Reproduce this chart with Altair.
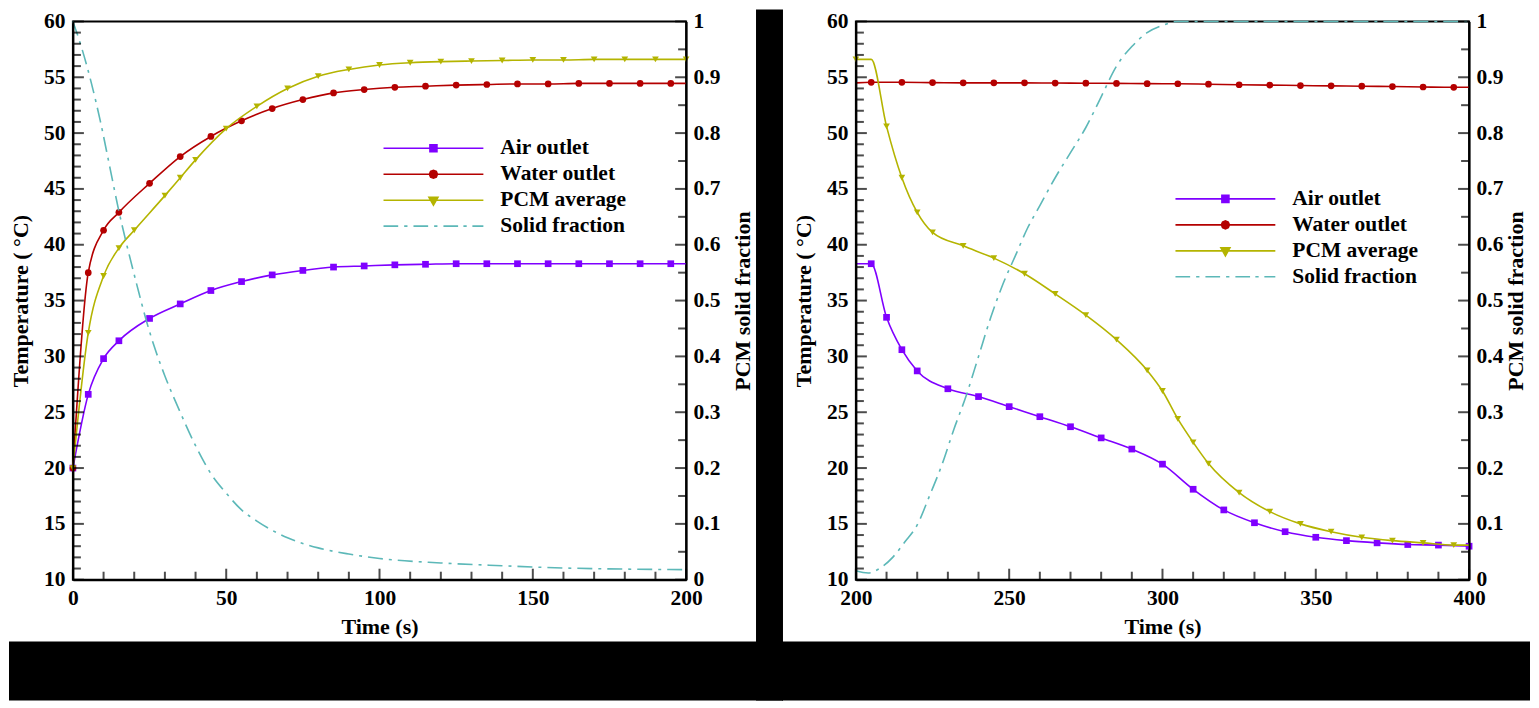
import altair as alt
import pandas as pd

FONT = "Liberation Serif"
NAMES = ["Air outlet", "Water outlet", "PCM average", "Solid fraction"]
COLORS = ["#7f00ff", "#b40000", "#b4b400", "#5cb8b8"]
SHAPES = ["square", "circle", "triangle-down"]

# legend symbols: a 100px line with the marker drawn in its middle
LEG_PATHS = [
    "M-1,0H1M-0.07,-0.07H0.07V0.07H-0.07Z",
    "M-1,0H1M0.08,0L0.057,0.057L0,0.08L-0.057,0.057L-0.08,0L-0.057,-0.057L0,-0.08L0.057,-0.057Z",
    "M-1,0H1M-0.09,-0.06H0.09L0,0.1Z",
    "M-1,0H-0.706M-0.586,0H-0.52M-0.4,0H-0.106M0.014,0H0.08M0.2,0H0.494M0.6,0H0.666M0.78,0H1",
]

# ---- heating, 0-200 s ----
heat_air_t = [0, 5, 10, 15, 25, 35, 45, 55, 65, 75, 85, 95, 105, 115, 125, 135,
              145, 155, 165, 175, 185, 195, 200]
heat_air = [20, 26.6, 29.8, 31.4, 33.4, 34.7, 35.9, 36.7, 37.3, 37.7, 38.0, 38.1,
            38.2, 38.25, 38.3, 38.3, 38.3, 38.3, 38.3, 38.3, 38.3, 38.3, 38.3]
heat_water_t = heat_air_t
heat_water = [20, 37.5, 41.3, 42.9, 45.5, 47.9, 49.7, 51.1, 52.2, 53.0, 53.6, 53.9,
              54.1, 54.2, 54.3, 54.35, 54.4, 54.4, 54.45, 54.45, 54.45, 54.45, 54.45]
heat_pcm_t = [0, 5, 10, 15, 20, 30, 35, 40, 50, 60, 70, 80, 90, 100, 110, 120, 130,
              140, 150, 160, 170, 180, 190, 200]
heat_pcm = [20, 32.1, 37.2, 39.7, 41.3, 44.4, 46.0, 47.6, 50.4, 52.4, 54.0, 55.1,
            55.7, 56.1, 56.3, 56.4, 56.45, 56.5, 56.55, 56.55, 56.6, 56.6, 56.6, 56.6]
heat_frac_t = [0, 3, 6, 9, 12, 15, 18, 21, 24, 27, 30, 35, 40, 45, 50, 55, 60, 70,
               80, 90, 100, 120, 140, 160, 180, 200]
heat_frac = [1.0, 0.95, 0.89, 0.82, 0.74, 0.66, 0.59, 0.525, 0.463, 0.41, 0.365,
             0.30, 0.24, 0.19, 0.155, 0.125, 0.105, 0.075, 0.057, 0.046, 0.038,
             0.030, 0.025, 0.021, 0.019, 0.018]

# ---- cooling, 200-400 s ----
cool_air_t = [200, 205, 210, 215, 220, 230, 240, 250, 260, 270, 280, 290, 300, 310,
              320, 330, 340, 350, 360, 370, 380, 390, 400]
cool_air = [38.3, 38.3, 33.5, 30.6, 28.7, 27.1, 26.4, 25.5, 24.6, 23.7, 22.7, 21.7,
            20.35, 18.1, 16.25, 15.1, 14.3, 13.8, 13.5, 13.3, 13.15, 13.1, 13.0]
cool_water_t = [200, 205, 215, 225, 235, 245, 255, 265, 275, 285, 295, 305, 315,
                325, 335, 345, 355, 365, 375, 385, 395, 400]
cool_water = [54.5, 54.55, 54.55, 54.52, 54.5, 54.5, 54.5, 54.48, 54.47, 54.45,
              54.43, 54.42, 54.38, 54.33, 54.3, 54.26, 54.23, 54.2, 54.17, 54.13,
              54.1, 54.1]
cool_pcm_t = [200, 205, 210, 215, 220, 225, 235, 245, 255, 265, 275, 285, 295, 300,
              305, 310, 315, 325, 335, 345, 355, 365, 375, 385, 395, 400]
cool_pcm = [56.6, 56.6, 50.6, 46.0, 42.9, 41.1, 39.9, 38.8, 37.4, 35.6, 33.7, 31.5,
            28.75, 26.9, 24.4, 22.3, 20.4, 17.8, 16.1, 15.0, 14.3, 13.8, 13.5, 13.3,
            13.1, 13.1]
cool_frac_t = [200, 204, 208, 212, 216, 220, 224, 228, 232, 236, 240, 244, 248, 252,
               256, 260, 265, 270, 275, 280, 285, 290, 295, 300, 305, 310, 400]
cool_frac = [0.016, 0.012, 0.021, 0.04, 0.068, 0.098, 0.15, 0.205, 0.27, 0.33, 0.40,
             0.47, 0.53, 0.58, 0.63, 0.67, 0.72, 0.765, 0.81, 0.865, 0.92, 0.955,
             0.98, 0.993, 1.0, 1.0, 1.0]

# times on a curve that carry no marker in the figure
heat_no_marker = [[200], [200], []]
cool_no_marker = [[200], [200, 400], [205, 400]]

# axis ticks (all of them point into the plot)
TEMP_MAJOR = [10, 15, 20, 25, 30, 35, 40, 45, 50, 55, 60]
TEMP_MINOR = [v for v in range(10, 61) if v not in TEMP_MAJOR]
FRAC_MAJOR = [0, 0.1, 0.2, 0.3, 0.4, 0.5, 0.6, 0.7, 0.8, 0.9, 1]
FRAC_MINOR = [0.05, 0.15, 0.25, 0.35, 0.45, 0.55, 0.65, 0.75, 0.85, 0.95]
HEAT_MAJOR = [0, 50, 100, 150, 200]
COOL_MAJOR = [200, 250, 300, 350, 400]

W, H = 614, 559
TOP = 12            # plot top sits this far below the chart's top edge
TOTAL_W, TOTAL_H = 1523, 692   # what fits inside the page's 8px margins
LEFT_X0, RIGHT_X0 = 64, 848    # plot origins inside the chart
TEMP_DOM, FRAC_DOM = [10, 60], [0, 1]


def axis_style(**kw):
    return alt.Axis(
        labelFont=FONT, labelFontSize=21.5, labelFontWeight="bold", labelColor="black",
        titleFont=FONT, titleFontSize=22, titleFontWeight="bold", titleColor="black",
        domainColor="black", domainWidth=2, ticks=False, labelFlush=False,
        labelOverlap=False, grid=False, zindex=1, **kw)


def x_enc(domain, major):
    return alt.X(
        "t:Q", scale=alt.Scale(domain=domain, nice=False, zero=False),
        axis=axis_style(values=major, title="Time (s)", labelPadding=8, titlePadding=7))


TEMP_AXIS = axis_style(orient="left", values=TEMP_MAJOR, title="Temperature ( °C)",
                       labelPadding=8, titlePadding=11)


def frac_axis(title_pad):
    return axis_style(orient="right", values=FRAC_MAJOR, title="PCM solid fraction",
                      titleAngle=270, titleBaseline="top", format="~g",
                      labelPadding=7, titlePadding=title_pad)


def y_scale(dom):
    return alt.Scale(domain=dom, nice=False, zero=False)


def series(t, v, idx, xe, scale_dom, axis=None, dash=None, no_marker=()):
    df = pd.DataFrame({"t": t, "v": v})
    base = alt.Chart(df).encode(x=xe, y=alt.Y("v:Q", scale=y_scale(scale_dom), axis=axis))
    line_kw = dict(color=COLORS[idx], strokeWidth=1.6, interpolate="monotone")
    if dash:
        line_kw["strokeDash"] = dash
    layers = [base.mark_line(**line_kw)]
    if idx < 3:
        pts = base.encode(y=alt.Y("v:Q", scale=y_scale(scale_dom), axis=None))
        if no_marker:
            pts = pts.transform_filter(
                ~alt.FieldOneOfPredicate(field="t", oneOf=list(no_marker)))
        layers.append(pts.mark_point(shape=SHAPES[idx], filled=True, size=45,
                                     opacity=1, color=COLORS[idx]))
    return layers


def x_ticks(values, xe, length):
    return alt.Chart(pd.DataFrame({"t": values})).mark_tick(
        color="black", thickness=2, size=length).encode(
        x=xe, y=alt.value(H - length / 2))


def y_ticks(values, dom, xpos, length):
    return alt.Chart(pd.DataFrame({"v": values})).mark_tick(
        color="black", thickness=2, size=length).encode(
        y=alt.Y("v:Q", scale=y_scale(dom), axis=None), x=alt.value(xpos))


def block(x0, x1, y0, y1, color="black"):
    return alt.Chart(pd.DataFrame({"k": [0]})).mark_rect(color=color).encode(
        x=alt.value(x0), x2=alt.value(x1), y=alt.value(y0), y2=alt.value(y1))


def legend_layer(lx, ly):
    leg = alt.Legend(
        title=None, orient="none", legendX=lx, legendY=ly, symbolSize=10000,
        symbolStrokeWidth=1.6, labelFont=FONT, labelFontSize=21.5,
        labelFontWeight="bold", labelColor="black", labelOffset=16, rowPadding=0,
        clipHeight=26, padding=0)
    return (
        alt.Chart(pd.DataFrame({"name": NAMES}))
        .transform_filter("false")
        .mark_point(filled=True, opacity=1, size=10000)
        .encode(
            shape=alt.Shape("name:N", scale=alt.Scale(domain=NAMES, range=LEG_PATHS),
                            legend=leg),
            fill=alt.Fill("name:N", scale=alt.Scale(domain=NAMES, range=COLORS),
                          legend=leg),
            stroke=alt.Stroke("name:N", scale=alt.Scale(domain=NAMES, range=COLORS),
                              legend=leg),
        )
    )


def panel(domain, major, air, water, pcm, frac, no_marker, frac_pad, lx, ly, backdrop):
    xe = x_enc(domain, major)
    minor = [v for v in range(domain[0], domain[1] + 1, 10) if v not in major]
    layers = list(backdrop)
    layers += series(*air, 0, xe, TEMP_DOM, axis=TEMP_AXIS, no_marker=no_marker[0])
    layers += series(*water, 1, xe, TEMP_DOM, no_marker=no_marker[1])
    layers += series(*pcm, 2, xe, TEMP_DOM, no_marker=no_marker[2])
    layers += series(*frac, 3, xe, FRAC_DOM, axis=frac_axis(frac_pad),
                     dash=[15, 6, 3, 6])
    layers += [
        x_ticks(major, xe, 11), x_ticks(minor, xe, 8),
        y_ticks(TEMP_MAJOR, TEMP_DOM, 5.5, 11), y_ticks(TEMP_MINOR, TEMP_DOM, 4, 8),
        y_ticks(FRAC_MAJOR, FRAC_DOM, W - 5.5, 11),
        y_ticks(FRAC_MINOR, FRAC_DOM, W - 4, 8),
    ]
    layers.append(legend_layer(lx, ly))
    return alt.layer(*layers).resolve_scale(y="independent").properties(
        width=W, height=H)


BAND = 633 - TOP          # top of the black strip along the bottom
END = TOTAL_H - TOP       # bottom edge of the chart
GAP0 = 748 - LEFT_X0      # black gap between the two panels
GAP1 = 775 - LEFT_X0
R_START = 775 - RIGHT_X0
R_END = TOTAL_W - RIGHT_X0

left = panel(
    [0, 200], HEAT_MAJOR, (heat_air_t, heat_air), (heat_water_t, heat_water),
    (heat_pcm_t, heat_pcm), (heat_frac_t, heat_frac), heat_no_marker, 13, 310, 114,
    [block(GAP0, GAP1, -TOP, END), block(-LEFT_X0, GAP1, BAND, END)])
right = panel(
    [200, 400], COOL_MAJOR, (cool_air_t, cool_air), (cool_water_t, cool_water),
    (cool_pcm_t, cool_pcm), (cool_frac_t, cool_frac), cool_no_marker, 3, 319, 164.7,
    [block(R_START - 1, R_END, BAND, END)])

chart = (
    alt.hconcat(left, right, spacing=RIGHT_X0 - LEFT_X0 - W, bounds="flush")
    .resolve_scale(fill="independent", stroke="independent", shape="independent")
    .resolve_legend(fill="independent", stroke="independent", shape="independent")
    .properties(padding=0, background="white")
    .configure_view(stroke="black", strokeWidth=2)
)

chart.save("out.html", embed_options={"renderer": "svg", "actions": False})
